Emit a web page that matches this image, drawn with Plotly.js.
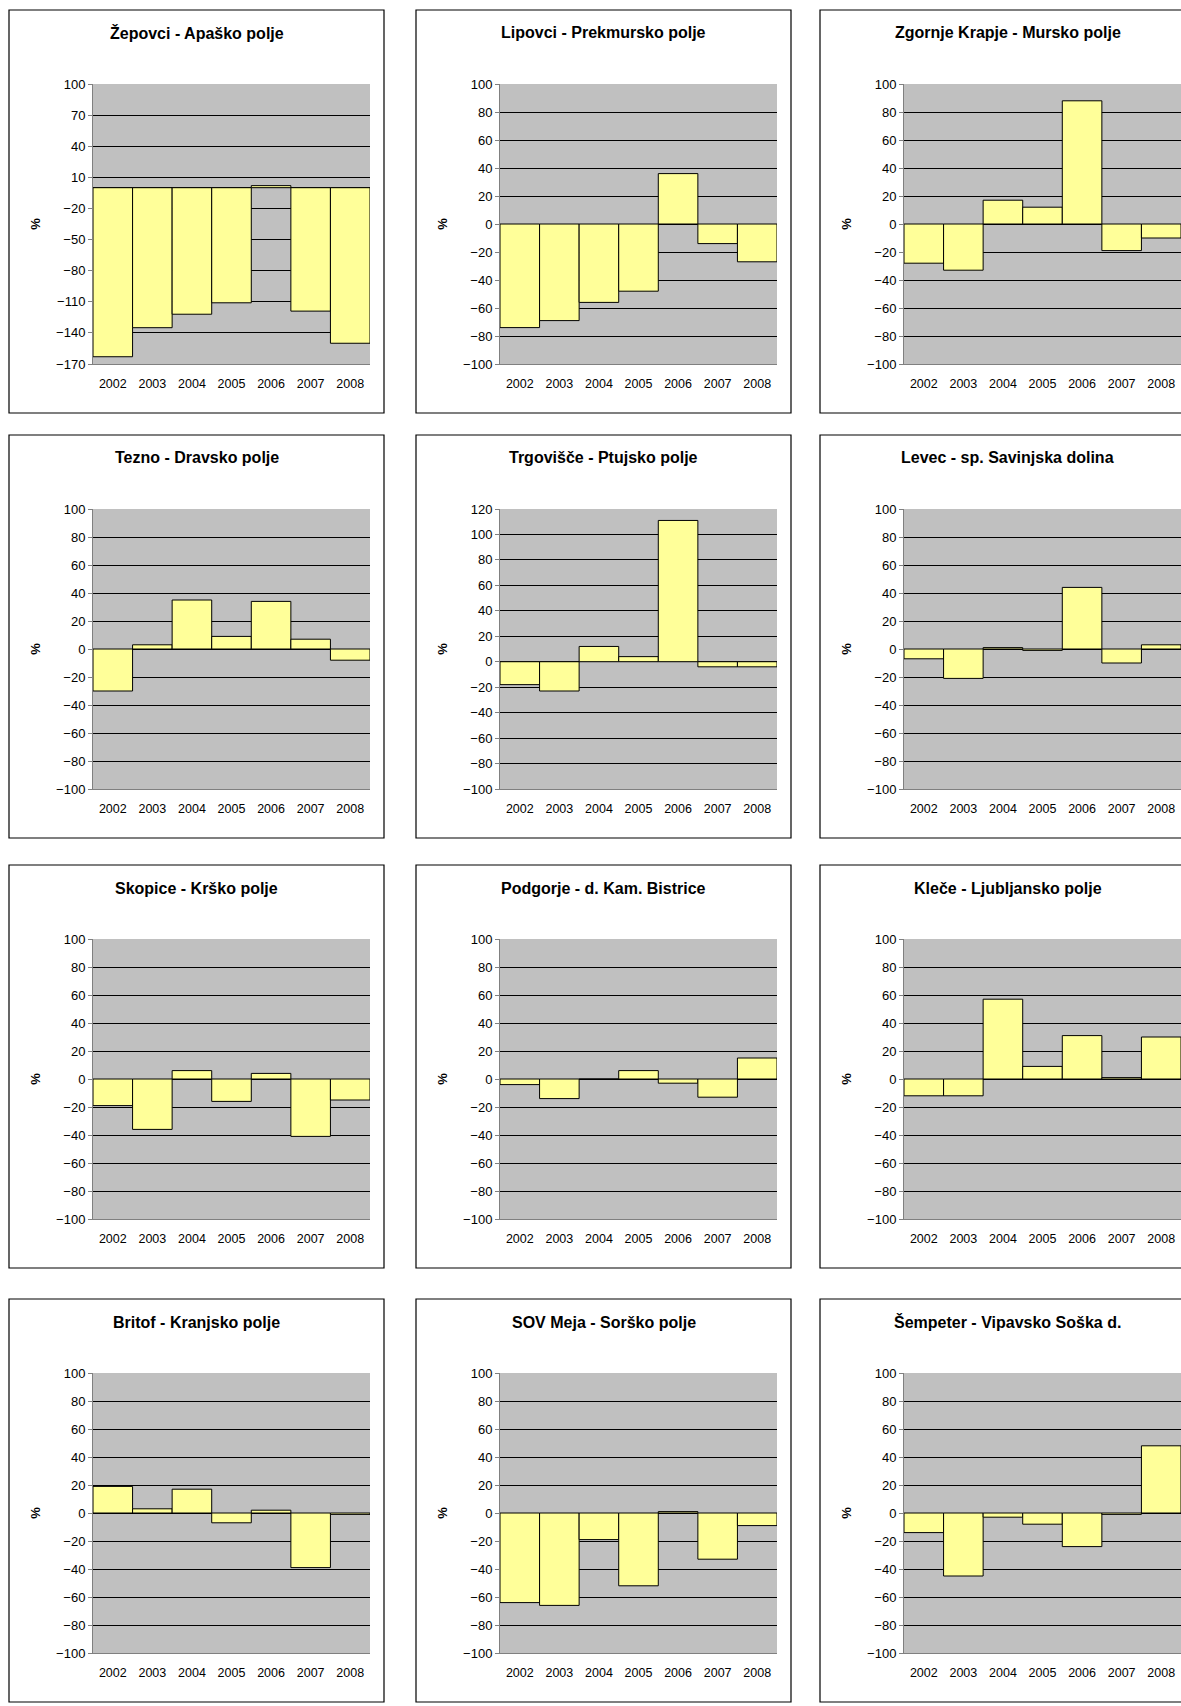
<!DOCTYPE html>
<html>
<head>
<meta charset="utf-8">
<script src="https://cdn.plot.ly/plotly-3.0.1.min.js"></script>
<style>body{margin:0;}#chart{width:1181px;height:1706px;}</style>
</head>
<body>
<div id="chart"></div>
<script>
var years = ['2002', '2003', '2004', '2005', '2006', '2007', '2008'];

var titles = [
  'Žepovci - Apaško polje', 'Lipovci - Prekmursko polje', 'Zgornje Krapje - Mursko polje',
  'Tezno - Dravsko polje', 'Trgovišče - Ptujsko polje', 'Levec - sp. Savinjska dolina',
  'Skopice - Krško polje', 'Podgorje - d. Kam. Bistrice', 'Kleče - Ljubljansko polje',
  'Britof - Kranjsko polje', 'SOV Meja - Sorško polje', 'Šempeter - Vipavsko Soška d.'
];

var zepovci = [-163, -135, -122, -111, 2, -119, -150];
var lipovci = [-74, -69, -56, -48, 36, -14, -27];
var krapje = [-28, -33, 17, 12, 88, -19, -10];
var tezno = [-30, 3, 35, 9, 34, 7, -8];
var trgovisce = [-18, -23, 12, 4, 111, -4, -4];
var levec = [-7, -21, 1, -1, 44, -10, 3];
var skopice = [-19, -36, 6, -16, 4, -41, -15];
var podgorje = [-4, -14, 0, 6, -3, -13, 15];
var klece = [-12, -12, 57, 9, 31, 1, 30];
var britof = [19, 3, 17, -7, 2, -39, -1];
var sovMeja = [-64, -66, -19, -52, 1, -33, -9];
var sempeter = [-14, -45, -3, -8, -24, -1, 48];

var series = [zepovci, lipovci, krapje, tezno, trgovisce, levec, skopice, podgorje, klece, britof, sovMeja, sempeter];

var W = 1181, H = 1706;
var boxX = [9, 416, 820];
var boxY = [10, 435, 865, 1299];
var boxW = 375, boxH = 403;

var data = [], shapes = [], annotations = [];
var layout = {
  width: W, height: H, margin: {l: 0, r: 0, t: 0, b: 0},
  paper_bgcolor: 'white', plot_bgcolor: '#c0c0c0',
  showlegend: false, bargap: 0,
  font: {family: 'Liberation Sans, Arial, sans-serif', size: 13, color: 'black'}
};

for (var i = 0; i < 12; i++) {
  var r = Math.floor(i / 3), c = i % 3;
  var bx = boxX[c], by = boxY[r];
  var px0 = bx + 84, px1 = Math.min(bx + boxW - 14, W);
  var py0 = by + 74, py1 = by + boxH - 49;
  var n = i + 1;
  var xa = 'xaxis' + (n === 1 ? '' : n), ya = 'yaxis' + (n === 1 ? '' : n);
  var lo = -100, hi = 100, step = 20;
  if (i === 0) { lo = -170; step = 30; }
  if (i === 4) { hi = 120; }
  var tv = [];
  for (var v = lo; v <= hi; v += step) tv.push(v);

  data.push({
    type: 'bar', x: years, y: series[i],
    xaxis: 'x' + (n === 1 ? '' : n), yaxis: 'y' + (n === 1 ? '' : n),
    marker: {color: '#ffff99', line: {color: 'black', width: 1}},
    hoverinfo: 'x+y'
  });

  layout[xa] = {
    domain: [px0 / W, px1 / W], anchor: 'y' + (n === 1 ? '' : n),
    type: 'category', tickmode: 'array', tickvals: years, ticktext: years,
    showgrid: false, zeroline: false, showline: true, linecolor: '#808080',
    ticks: 'outside', ticklen: 8, tickcolor: 'rgba(0,0,0,0)',
    tickfont: {size: 12.5}, fixedrange: true
  };
  layout[ya] = {
    domain: [1 - py1 / H, 1 - py0 / H], anchor: 'x' + (n === 1 ? '' : n),
    range: [lo, hi], tickvals: tv, showgrid: true, gridcolor: 'black', gridwidth: 1,
    zeroline: true, zerolinecolor: 'black', zerolinewidth: 1,
    showline: true, linecolor: '#808080', ticks: 'outside', ticklen: 4, tickcolor: '#808080',
    tickfont: {size: 13},
    title: {text: '%', font: {size: 13, weight: 'bold'}, standoff: 12}
  };

  shapes.push({
    type: 'rect', xref: 'paper', yref: 'paper',
    x0: bx / W, x1: (bx + boxW) / W, y0: 1 - (by + boxH) / H, y1: 1 - by / H,
    line: {color: 'black', width: 1.2}, fillcolor: 'rgba(0,0,0,0)', layer: 'below'
  });
  annotations.push({
    xref: 'paper', yref: 'paper', x: (bx + boxW / 2) / W, y: 1 - (by + 23) / H,
    text: '<b>' + titles[i] + '</b>', showarrow: false,
    font: {size: 16}, xanchor: 'center', yanchor: 'middle'
  });
}
layout.shapes = shapes;
layout.annotations = annotations;

Plotly.newPlot('chart', data, layout, {displayModeBar: false, staticPlot: true});
</script>
</body>
</html>
